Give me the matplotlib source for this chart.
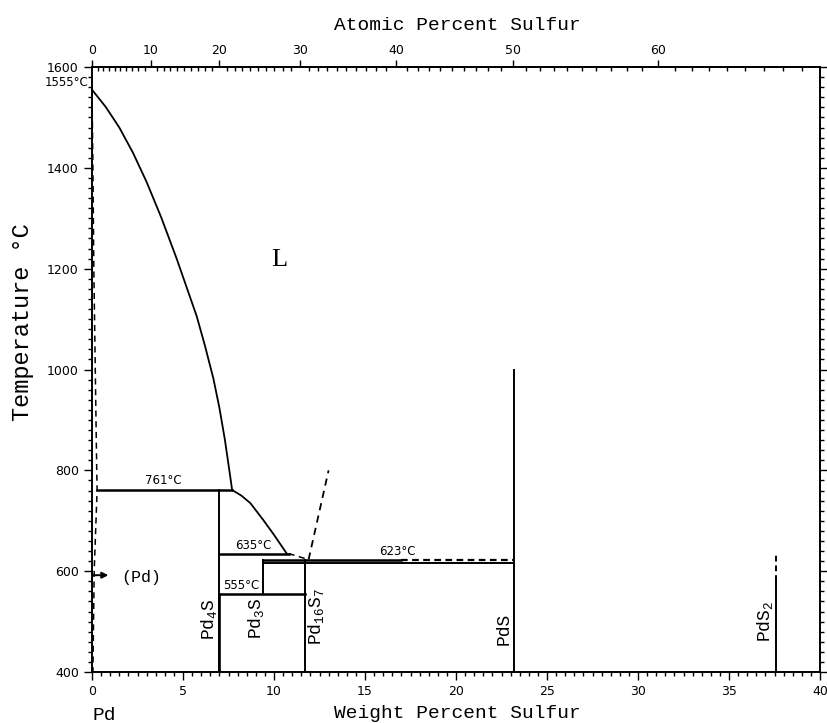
"""Pd-S phase diagram redraw."""

import numpy as np
import matplotlib

matplotlib.use("Agg")
import matplotlib.pyplot as plt
from matplotlib.ticker import MultipleLocator

plt.rcParams["mathtext.default"] = "regular"

M_PD = 106.42
M_S = 32.06

# liquidus from the Pd melting point down to the 761 C eutectic
liq_wt = [0.0, 0.75, 1.5, 2.25, 3.0, 3.8, 4.65, 5.2, 5.75, 6.2, 6.67, 7.0, 7.3, 7.55, 7.7]
liq_t = [1555, 1521, 1480, 1430, 1372, 1302, 1220, 1163, 1106, 1048, 982, 924, 861, 799, 761]

# liquidus between the eutectic and the 635 C line
liq2_wt = [7.7, 8.2, 8.7, 9.4, 10.0, 10.7]
liq2_t = [761, 750, 735, 702, 672, 635]

# (Pd) solidus / solvus (dashed)
pd_wt = [0.0, 0.05, 0.1, 0.18, 0.26, 0.28, 0.22, 0.12, 0.05]
pd_t = [1555, 1400, 1200, 1000, 800, 761, 700, 600, 400]

# dashed liquidus pieces near Pd16S7
peri_wt = [10.8, 11.9, 13.0]
peri_t = [635, 623, 800]

# invariant lines
inv_t = [761, 635, 623, 555]
inv_from = [0.28, 7.0, 9.4, 7.0]
inv_to = [7.7, 10.8, 17.0, 11.7]
inv_labels = ["761°C", "635°C", "623°C", "555°C"]
dash623_wt = [17.0, 23.2]
low623_t = 616
low623_wt = [9.4, 23.2]

# compounds
comp_names = ["Pd$_4$S", "Pd$_3$S", "Pd$_{16}$S$_7$", "PdS", "PdS$_2$"]
comp_wt = [7.0, 9.4, 11.7, 23.2, 37.6]
comp_bottom = [400, 555, 400, 400, 400]
comp_top = [761, 623, 623, 1000, 580]
pds2_dash_t = [580, 635]

at_ticks = [0, 10, 20, 30, 40, 50, 60]


def wt_to_at(w):
    w = np.clip(np.asarray(w, dtype=float), 1e-9, 100 - 1e-9)
    ns = w / M_S
    npd = (100 - w) / M_PD
    return ns / (ns + npd) * 100


def at_to_wt(a):
    a = np.clip(np.asarray(a, dtype=float), 1e-9, 100 - 1e-9)
    ms = a * M_S
    mpd = (100 - a) * M_PD
    return ms / (ms + mpd) * 100


fig = plt.figure(figsize=(8.27, 7.23), dpi=100)
ax = fig.add_axes([92 / 827, 51 / 723, 728 / 827, 605 / 723])
ax.set_xlim(0, 40)
ax.set_ylim(400, 1600)

k = "black"
dash = (0, (4, 3))

ax.plot(liq_wt, liq_t, color=k, lw=1.3)
ax.plot(liq2_wt, liq2_t, color=k, lw=1.3)
ax.plot(pd_wt, pd_t, color=k, lw=1.1, ls=dash)
ax.plot(peri_wt[:2], peri_t[:2], color=k, lw=1.1, ls=dash)
ax.plot(peri_wt[1:], peri_t[1:], color=k, lw=1.3, ls=dash)

for t, x0, x1 in zip(inv_t, inv_from, inv_to):
    ax.plot([x0, x1], [t, t], color=k, lw=1.8)
ax.plot(dash623_wt, [623, 623], color=k, lw=1.6, ls=(0, (3, 2)))
ax.plot(low623_wt, [low623_t, low623_t], color=k, lw=1.4)

for x, b, t in zip(comp_wt, comp_bottom, comp_top):
    ax.plot([x, x], [b, t], color=k, lw=1.4)
ax.plot([comp_wt[0], comp_wt[0]], [400, 555], color=k, lw=1.9)
ax.plot([comp_wt[4], comp_wt[4]], pds2_dash_t, color=k, lw=1.4, ls=(0, (3, 2)))

# temperature labels
tfont = dict(fontsize=8.5, family="DejaVu Sans", ha="center", va="bottom")
ax.text(3.9, 766, inv_labels[0], **tfont)
ax.text(8.85, 638, inv_labels[1], **tfont)
ax.text(16.8, 626, inv_labels[2], **tfont)
ax.text(8.2, 558, inv_labels[3], **tfont)
fig.text(88 / 827, 1 - 82 / 723, "1555°C", fontsize=8.5, ha="right", va="center")

# phase labels
mono = "Liberation Mono"
label_x = [6.45, 9.0, 12.3, 22.65, 37.0]
label_y = [505, 507, 510, 485, 500]
for name, x, y in zip(comp_names, label_x, label_y):
    ax.text(x, y, name, rotation=90, fontsize=13, family=mono,
            ha="center", va="center")
ax.text(10.3, 1217, "L", fontsize=19, family="Liberation Serif",
        ha="center", va="center")
ax.text(2.7, 588, "(Pd)", fontsize=12, family=mono, ha="center", va="center")
ax.annotate("", xy=(0.9, 592), xytext=(0.05, 592),
            arrowprops=dict(arrowstyle="-|>", color=k, lw=1.4,
                            mutation_scale=9, shrinkA=0, shrinkB=0))

# axes styling
for side in ax.spines.values():
    side.set_linewidth(1.4)
ax.xaxis.set_major_locator(MultipleLocator(5))
ax.xaxis.set_minor_locator(MultipleLocator(0.5))
ax.yaxis.set_major_locator(MultipleLocator(200))
ax.yaxis.set_minor_locator(MultipleLocator(20))
ax.tick_params(which="both", direction="out", width=1.0, labelsize=9,
               right=True, top=False)
ax.tick_params(which="major", length=6)
ax.tick_params(which="minor", length=3)
ax.tick_params(axis="y", which="both", labelright=False)

sec = ax.secondary_xaxis("top", functions=(wt_to_at, at_to_wt))
sec.set_xticks(at_ticks)
sec.set_xticks(np.arange(0, 70, 1), minor=True)
sec.tick_params(which="major", direction="out", length=5, width=1.0,
                labelsize=9, pad=2)
sec.tick_params(which="minor", direction="in", length=3, width=1.0)
sec.spines["top"].set_linewidth(1.4)

fig.text(457 / 827, 1 - 26 / 723, "Atomic Percent Sulfur", fontsize=14,
         family=mono, ha="center", va="center")
fig.text(457 / 827, 1 - 714 / 723, "Weight Percent Sulfur", fontsize=14,
         family=mono, ha="center", va="center")
fig.text(104 / 827, 1 - 715 / 723, "Pd", fontsize=14, family=mono,
         ha="center", va="center")
fig.text(23 / 827, 1 - 322 / 723, "Temperature °C", fontsize=17,
         family=mono, rotation=90, ha="center", va="center")

fig.savefig("out.png", dpi=100)
plt.close(fig)
